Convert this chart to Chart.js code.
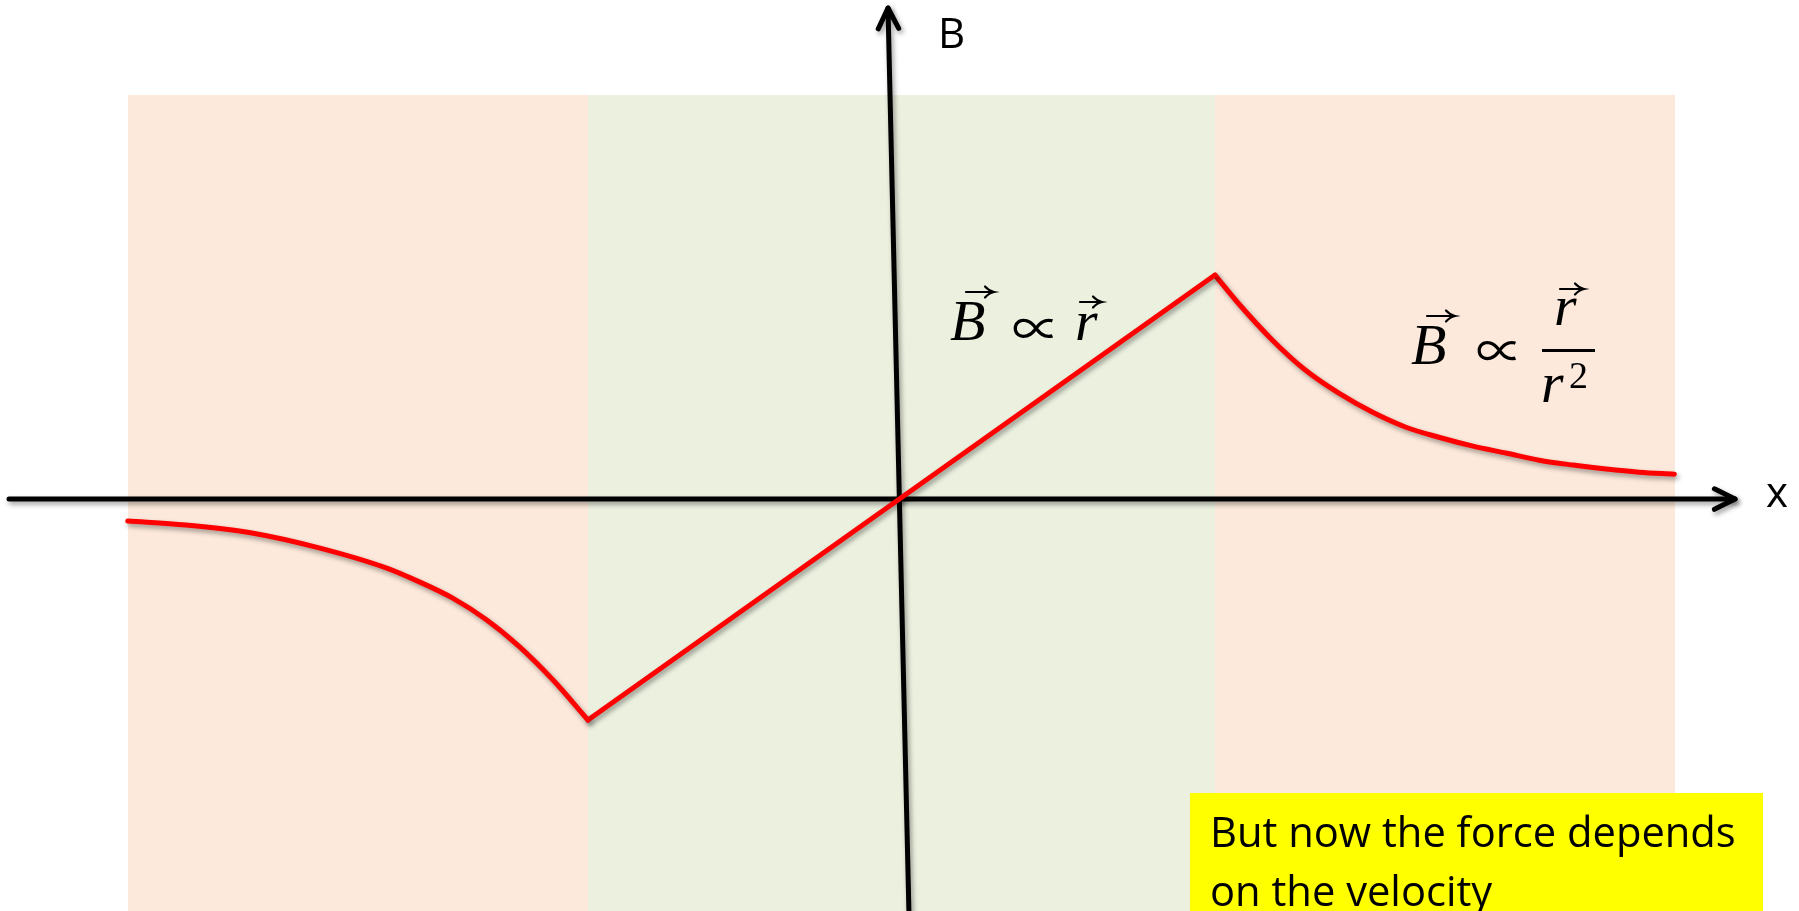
<!DOCTYPE html>
<html>
<head>
<meta charset="utf-8">
<script src="https://cdn.jsdelivr.net/npm/chart.js@4/dist/chart.umd.min.js"></script>
<style>
  html, body { margin: 0; padding: 0; background: #ffffff; }
  #wrap { width: 1799px; height: 911px; position: relative; overflow: hidden; }
  canvas { display: block; }
</style>
</head>
<body>
<div id="wrap"><canvas id="c" width="1799" height="911"></canvas></div>
<script>
// ---- data (r in units of the inner radius, B in units of its peak value) ----
const leftR  = [-2.468, -2.283, -2.072, -1.858, -1.644, -1.538, -1.433, -1.324, -1.219, -1.113, -1.00];
const leftB  = [-0.105, -0.123, -0.159, -0.226, -0.316, -0.379, -0.451, -0.549, -0.670, -0.818, -1.00];
const innerR = [-1.00, 0.00, 1.00];
const innerB = [-1.00, 0.00, 1.00];
const rightR = [1.00, 1.075, 1.184, 1.289, 1.395, 1.503, 1.609, 1.714, 1.823, 1.928, 2.034, 2.142, 2.248, 2.353, 2.465];
const rightB = [1.00, 0.872, 0.706, 0.572, 0.469, 0.383, 0.316, 0.271, 0.231, 0.200, 0.168, 0.146, 0.128, 0.114, 0.105];

// shaded regions: edges along r, and their top in B units
const regionEdges = [-2.466, -1.00, 1.00, 2.466];
const regionTop = 1.809;

// texts
const axisLabelX = 'x';
const axisLabelY = 'B';
const noteLines = ['But now the force depends', 'on the velocity'];

const regionColors = ['#FCE9DB', '#EBF0DF', '#FCE9DB'];
const toPts = (xs, ys) => xs.map((v, i) => ({ x: v, y: ys[i] }));

function arrowLine(ctx, x1, y1, x2, y2, head, ang) {
  ctx.beginPath();
  ctx.moveTo(x1, y1);
  ctx.lineTo(x2, y2);
  ctx.stroke();
  const a = Math.atan2(y2 - y1, x2 - x1);
  ctx.beginPath();
  ctx.moveTo(x2 - head * Math.cos(a - ang), y2 - head * Math.sin(a - ang));
  ctx.lineTo(x2, y2);
  ctx.lineTo(x2 - head * Math.cos(a + ang), y2 - head * Math.sin(a + ang));
  ctx.stroke();
}

function vecArrow(ctx, x1, x2, y) {
  ctx.save();
  ctx.strokeStyle = '#000';
  ctx.lineWidth = 2.2;
  ctx.lineCap = 'round';
  ctx.beginPath();
  ctx.moveTo(x1, y);
  ctx.lineTo(x2, y);
  ctx.stroke();
  ctx.beginPath();
  ctx.moveTo(x2 - 8, y - 5.5);
  ctx.quadraticCurveTo(x2 - 4, y - 1, x2 + 1, y);
  ctx.quadraticCurveTo(x2 - 4, y + 1, x2 - 8, y + 5.5);
  ctx.stroke();
  ctx.restore();
}

// draw a glyph so that its ink box has the given width, left edge and vertical centre
function fitGlyph(ctx, ch, family, left, centerY, inkW) {
  ctx.font = '100px ' + family;
  const m = ctx.measureText(ch);
  const w = m.actualBoundingBoxLeft + m.actualBoundingBoxRight;
  const s = 100 * inkW / w;
  ctx.font = s.toFixed(1) + 'px ' + family;
  const m2 = ctx.measureText(ch);
  const asc = m2.actualBoundingBoxAscent, desc = m2.actualBoundingBoxDescent;
  const baseY = centerY + (asc - desc) / 2;
  ctx.fillText(ch, left + m2.actualBoundingBoxLeft, baseY);
}

function setShadow(ctx) {
  ctx.shadowColor = 'rgba(0,0,0,0.38)';
  ctx.shadowBlur = 5;
  ctx.shadowOffsetX = 2;
  ctx.shadowOffsetY = 3;
}

const decor = {
  id: 'decor',
  beforeDraw(chart) {
    const { ctx, scales: { x, y } } = chart;
    ctx.save();
    ctx.fillStyle = '#ffffff';
    ctx.fillRect(0, 0, chart.width, chart.height);
    const top = y.getPixelForValue(regionTop);
    for (let i = 0; i < regionColors.length; i++) {
      const x0 = x.getPixelForValue(regionEdges[i]);
      const x1 = x.getPixelForValue(regionEdges[i + 1]);
      ctx.fillStyle = regionColors[i];
      ctx.fillRect(Math.round(x0), Math.round(top), Math.round(x1) - Math.round(x0), chart.height - top);
    }
    ctx.restore();
  },
  beforeDatasetsDraw(chart) {
    const { ctx, scales: { x, y } } = chart;
    ctx.save();
    setShadow(ctx);
    ctx.strokeStyle = '#000';
    ctx.lineWidth = 5;
    ctx.lineCap = 'round';
    ctx.lineJoin = 'round';
    const y0 = y.getPixelForValue(0) + 1.5;
    arrowLine(ctx, 9, y0, 1735, y0, 23, 0.46);
    arrowLine(ctx, 909, 915, 888, 8, 23, 0.46);
    ctx.restore();
  },
  beforeDatasetDraw(chart) {
    chart.ctx.save();
    setShadow(chart.ctx);
  },
  afterDatasetDraw(chart) {
    chart.ctx.restore();
  },
  afterDraw(chart) {
    const ctx = chart.ctx;
    ctx.save();
    ctx.fillStyle = '#000';
    ctx.textBaseline = 'alphabetic';
    ctx.textAlign = 'left';
    ctx.font = '42px "Open Sans"';
    ctx.fillText(axisLabelY, 938, 48);
    ctx.fillText(axisLabelX, 1766, 507);

    const serifI = 'italic 58px "Liberation Serif"';
    const propFont = '"Noto Sans CJK JP", "DejaVu Serif"';
    // formula 1: B ∝ r
    ctx.font = serifI;
    ctx.fillText('B', 950, 340);
    ctx.fillText('r', 1075, 340);
    fitGlyph(ctx, '\u221D', propFont, 1013, 328, 40);
    vecArrow(ctx, 966, 993, 292);
    vecArrow(ctx, 1080, 1101, 302);

    // formula 2: B ∝ r / r^2
    ctx.font = serifI;
    ctx.fillText('B', 1411, 364);
    ctx.fillText('r', 1554, 325);
    ctx.fillText('r', 1541, 402);
    ctx.font = '38px "Liberation Serif"';
    ctx.fillText('2', 1569, 388);
    fitGlyph(ctx, '\u221D', propFont, 1477, 351, 39);
    vecArrow(ctx, 1427, 1454, 316);
    vecArrow(ctx, 1560, 1583, 289);
    ctx.fillStyle = '#000';
    ctx.fillRect(1542, 349, 53, 3);

    // yellow note box
    ctx.fillStyle = '#FFFF00';
    ctx.fillRect(1190, 793, 573, 130);
    ctx.fillStyle = '#000';
    ctx.font = '48px "Open Sans"';
    const w = ctx.measureText(noteLines[0]).width;
    const fs = 48 * 526 / w;
    ctx.font = fs.toFixed(1) + 'px "Open Sans"';
    ctx.fillText(noteLines[0], 1210, 847);
    ctx.fillText(noteLines[1], 1210, 906);
    ctx.restore();
  }
};

const lineStyle = {
  borderColor: '#FF0000',
  borderWidth: 5,
  pointRadius: 0,
  pointHoverRadius: 0,
  fill: false,
  borderCapStyle: 'round',
  borderJoinStyle: 'round'
};

new Chart(document.getElementById('c'), {
  type: 'line',
  data: {
    datasets: [
      Object.assign({ label: 'outer left', data: toPts(leftR, leftB), cubicInterpolationMode: 'monotone' }, lineStyle),
      Object.assign({ label: 'inner', data: toPts(innerR, innerB), tension: 0 }, lineStyle),
      Object.assign({ label: 'outer right', data: toPts(rightR, rightB), cubicInterpolationMode: 'monotone' }, lineStyle)
    ]
  },
  options: {
    responsive: false,
    animation: false,
    devicePixelRatio: 1,
    layout: { padding: 0 },
    events: [],
    plugins: { legend: { display: false }, tooltip: { enabled: false }, title: { display: false } },
    scales: {
      x: { type: 'linear', min: -2.8756, max: 2.8628, display: false },
      y: { type: 'linear', min: -1.858, max: 2.236, display: false }
    }
  },
  plugins: [decor]
});
</script>
</body>
</html>
